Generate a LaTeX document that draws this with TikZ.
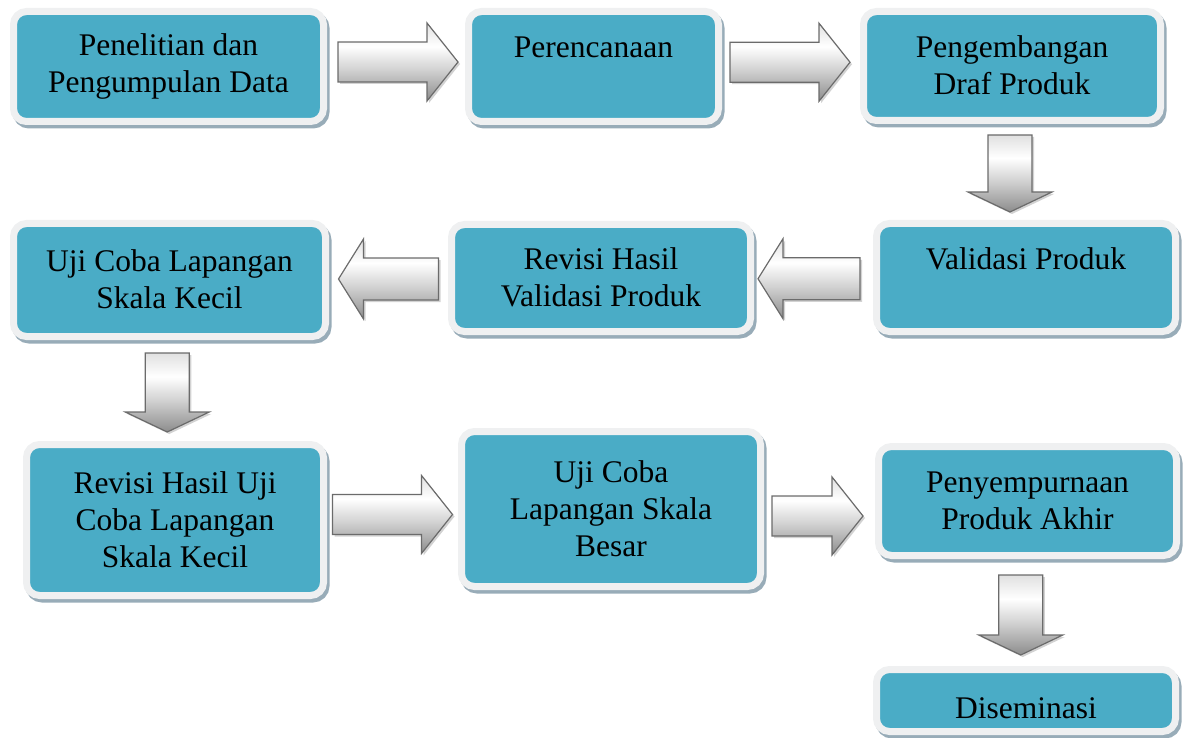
\documentclass[tikz,border=0pt]{standalone}
\usepackage{fontspec}
\setmainfont{Liberation Serif}
\usetikzlibrary{calc,shadows}

\definecolor{stagefill}{HTML}{4AACC6}
\definecolor{stagerim}{HTML}{EFF0F1}
\definecolor{stageshade}{HTML}{98ACB8}
\definecolor{arrowline}{HTML}{6B6B6B}

\pgfdeclareverticalshading{arrowshade}{100bp}{color(0bp)=(black!45); color(25bp)=(black!45); color(45bp)=(black!18); color(60bp)=(white); color(75bp)=(black!12); color(100bp)=(black!12)}

\newcommand{\boxstrut}{\rule[-1pt]{0pt}{37pt}}

\begin{document}
\begin{tikzpicture}[x=1pt, y=-1pt,
    stage/.style ={rectangle, rounded corners=13pt, draw=stagerim, line width=7pt,
      fill=stagefill, inner sep=0pt, outer sep=0pt, align=center,
      font=\fontsize{31.5}{37}\selectfont,
      execute at begin node=\boxstrut, execute at end node=\boxstrut,
      drop shadow={shadow xshift=2.5pt, shadow yshift=-3.5pt, fill=stageshade,
        draw=stageshade, line width=7pt, opacity=1}},
    arrowbody/.style ={draw=arrowline, line width=1.2pt, shading=arrowshade,
      drop shadow={shadow xshift=2pt, shadow yshift=-2pt, fill=black!35, opacity=.5}},
    pics/rarrow/.style ={code={
      \draw[arrowbody] (-0.5*#1,-20) -- (0.5*#1-31,-20) -- (0.5*#1-31,-39) -- (0.5*#1,0)
        -- (0.5*#1-31,39) -- (0.5*#1-31,20) -- (-0.5*#1,20) -- cycle;}},
    pics/larrow/.style ={code={
      \draw[arrowbody] (0.5*#1,-21) -- (-0.5*#1+25,-21) -- (-0.5*#1+25,-40) -- (-0.5*#1,0)
        -- (-0.5*#1+25,40) -- (-0.5*#1+25,21) -- (0.5*#1,21) -- cycle;}},
    pics/darrow/.style ={code={
      \draw[arrowbody] (-22,-0.5*#1) -- (22,-0.5*#1) -- (22,0.5*#1-20) -- (42,0.5*#1-20)
        -- (0,0.5*#1) -- (-42,0.5*#1-20) -- (-22,0.5*#1-20) -- cycle;}}]
   \useasboundingbox (0,0) rectangle (1186,738);

   \node[stage, minimum width=310pt, minimum height=110pt] (p1) at (168.5,66.5) {Penelitian dan\\Pengumpulan Data};
   \node[stage, minimum width=250pt, minimum height=110pt] (p2) at (593.5,66.5) {Perencanaan\\ \mbox{}};
   \node[stage, minimum width=297pt, minimum height=109pt] (p3) at (1012,66) {Pengembangan\\Draf Produk};
   \node[stage, minimum width=299pt, minimum height=108pt] (p4) at (1026,277.5) {Validasi Produk\\ \mbox{}};
   \node[stage, minimum width=299pt, minimum height=107pt] (p5) at (601,278) {Revisi Hasil\\Validasi Produk};
   \node[stage, minimum width=312pt, minimum height=113pt] (p6) at (169.5,280) {Uji Coba Lapangan\\Skala Kecil};
   \node[stage, minimum width=297pt, minimum height=151pt] (p7) at (175,520) {Revisi Hasil Uji\\Coba Lapangan\\Skala Kecil};
   \node[stage, minimum width=299pt, minimum height=155pt] (p8) at (611,509) {Uji Coba\\Lapangan Skala\\Besar};
   \node[stage, minimum width=298pt, minimum height=109pt] (p9) at (1027.5,501) {Penyempurnaan\\Produk Akhir};
   \node[stage, minimum width=299pt, minimum height=62pt] (p10) at (1026,700.5) {Diseminasi};

   \pic at ($(p1.east)!.5!(p2.west)+(2,-4.5)$) {rarrow=120};
   \pic at ($(p2.east)!.5!(p3.west)+(-1,-4)$) {rarrow=120};
   \pic at ($(p3.south)!.5!(p4.north)+(-9,1.5)$) {darrow=77};
   \pic at ($(p4.west)!.5!(p5.east)+(-4.5,1)$) {larrow=102};
   \pic at ($(p5.west)!.5!(p6.east)$) {larrow=100};
   \pic at ($(p6.south)!.5!(p7.north)+(-5,2)$) {darrow=79};
   \pic at ($(p7.east)!.5!(p8.west)$) {rarrow=120};
   \pic at ($(p8.east)!.5!(p9.west)+(-2,11)$) {rarrow=91};
   \pic at ($(p9.south)!.5!(p10.north)+(-6,2.5)$) {darrow=80};
 \end{tikzpicture}
\end{document}
